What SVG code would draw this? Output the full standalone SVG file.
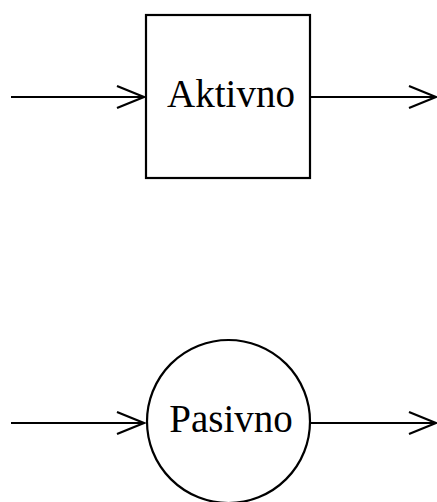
<svg xmlns="http://www.w3.org/2000/svg" width="437" height="502" viewBox="0 0 437 502">
<style>
.s{fill:#fff;stroke:#000;stroke-width:2.2}
.c{fill:none;stroke:#000;stroke-width:2.2}
.t{font-family:"Liberation Serif",serif;font-size:39px;fill:#000;text-anchor:middle}
</style>
<rect width="437" height="502" fill="#fff"/>
<g id="connectors">
<path class="c" d="M11,97 H144 M117,86 L144,97 L117,108"/>
<path class="c" d="M310,97 H436 M409,86 L436,97 L409,108"/>
<path class="c" d="M11,423 H144 M117,412 L144,423 L117,434"/>
<path class="c" d="M310,423 H436 M409,412 L436,423 L409,434"/>
</g>
<g id="aktivno">
<rect class="s" x="146" y="15" width="164" height="163"/>
<text class="t" x="231" y="107">Aktivno</text>
</g>
<g id="pasivno">
<circle class="s" cx="228.5" cy="421.5" r="81.5"/>
<text class="t" x="231" y="432">Pasivno</text>
</g>
</svg>
